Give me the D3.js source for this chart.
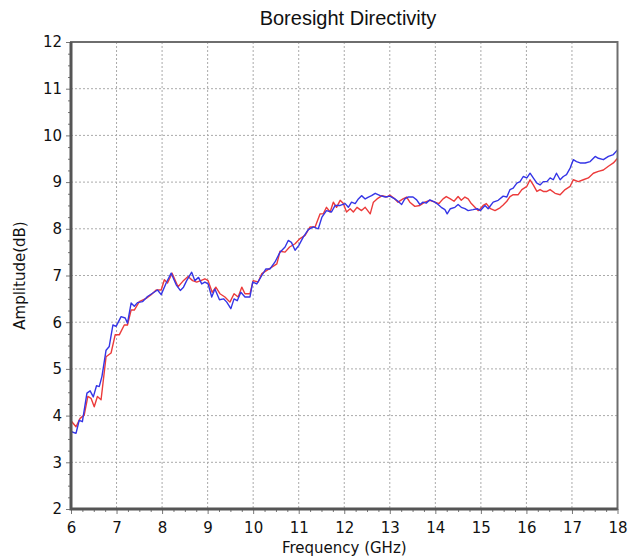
<!DOCTYPE html>
<html>
<head>
<meta charset="utf-8">
<script src="https://cdn.jsdelivr.net/npm/d3@7"></script>
<style>
  body { margin: 0; background: #fff; }
  .grid line { stroke: #aaaaaa; stroke-width: 1; stroke-dasharray: 2,2; }
  .tick text { font-family: "DejaVu Sans", Verdana, sans-serif; font-size: 15px; fill: #111; }
</style>
</head>
<body>
<script>
// series values (GHz, dB)
var blueFreq = [6.0,6.11,6.18,6.25,6.35,6.42,6.49,6.56,6.62,6.68,6.77,6.84,6.92,6.99,7.1,7.19,7.24,7.32,7.39,7.46,7.57,7.68,7.79,7.9,7.98,8.09,8.2,8.31,8.4,8.47,8.54,8.65,8.72,8.8,8.87,8.94,9.01,9.09,9.16,9.26,9.35,9.42,9.51,9.58,9.65,9.73,9.82,9.93,9.99,10.08,10.19,10.28,10.37,10.48,10.59,10.7,10.77,10.84,10.92,11.0,11.1,11.21,11.32,11.43,11.51,11.61,11.72,11.8,11.91,12.02,12.09,12.16,12.24,12.31,12.38,12.46,12.53,12.6,12.68,12.79,12.9,13.0,13.11,13.18,13.26,13.33,13.4,13.51,13.59,13.66,13.73,13.8,13.88,13.99,14.06,14.13,14.21,14.26,14.33,14.43,14.5,14.57,14.65,14.72,14.83,14.92,14.99,15.09,15.16,15.27,15.38,15.49,15.57,15.64,15.71,15.79,15.86,15.93,16.01,16.08,16.15,16.23,16.3,16.37,16.45,16.52,16.59,16.66,16.74,16.81,16.88,16.96,17.03,17.1,17.18,17.29,17.4,17.51,17.58,17.69,17.8,17.91,18.0];
var blueAmp = [3.66,3.62,3.9,3.87,4.48,4.53,4.4,4.64,4.62,4.84,5.4,5.48,5.94,5.91,6.12,6.09,5.98,6.41,6.34,6.42,6.44,6.55,6.62,6.69,6.59,6.84,7.05,6.8,6.68,6.75,6.89,7.07,6.89,6.96,6.82,6.86,6.82,6.54,6.71,6.48,6.5,6.43,6.29,6.5,6.46,6.64,6.54,6.54,6.86,6.82,7.0,7.14,7.14,7.29,7.5,7.61,7.75,7.71,7.54,7.64,7.82,7.98,8.04,8.0,8.25,8.39,8.36,8.5,8.5,8.54,8.46,8.57,8.54,8.64,8.71,8.64,8.68,8.71,8.76,8.71,8.68,8.7,8.64,8.59,8.52,8.64,8.68,8.68,8.62,8.52,8.57,8.55,8.62,8.57,8.52,8.46,8.41,8.32,8.43,8.46,8.52,8.46,8.43,8.39,8.41,8.43,8.39,8.5,8.43,8.57,8.61,8.7,8.68,8.84,8.87,8.98,9.01,9.12,9.09,9.19,9.09,8.98,8.94,9.01,9.01,9.09,9.05,9.19,9.05,9.12,9.16,9.3,9.48,9.44,9.41,9.41,9.44,9.55,9.51,9.48,9.55,9.59,9.69];

var redFreq = [6.0,6.11,6.2,6.29,6.37,6.44,6.51,6.58,6.66,6.77,6.88,6.97,7.06,7.17,7.24,7.32,7.39,7.5,7.65,7.76,7.87,7.98,8.05,8.12,8.22,8.35,8.46,8.57,8.67,8.76,8.85,8.94,9.01,9.1,9.18,9.27,9.38,9.49,9.58,9.67,9.75,9.82,9.93,10.0,10.11,10.19,10.3,10.41,10.52,10.59,10.7,10.8,10.92,11.03,11.14,11.25,11.36,11.47,11.54,11.61,11.69,11.76,11.83,11.91,11.98,12.05,12.13,12.2,12.28,12.38,12.46,12.57,12.64,12.72,12.83,12.94,13.0,13.11,13.18,13.29,13.37,13.44,13.55,13.66,13.77,13.88,13.99,14.08,14.17,14.24,14.33,14.41,14.5,14.57,14.65,14.72,14.79,14.87,14.94,14.99,15.05,15.12,15.21,15.31,15.42,15.49,15.57,15.64,15.71,15.82,15.9,16.01,16.08,16.15,16.23,16.3,16.37,16.45,16.52,16.63,16.74,16.85,16.96,17.03,17.14,17.25,17.36,17.47,17.58,17.69,17.8,17.91,18.0];
var redAmp = [3.89,3.76,3.94,4.01,4.41,4.37,4.19,4.41,4.34,5.26,5.34,5.73,5.73,5.94,5.94,6.26,6.26,6.44,6.51,6.59,6.69,6.69,6.91,6.84,7.05,6.76,6.88,6.98,6.89,6.86,6.89,6.93,6.89,6.64,6.75,6.61,6.54,6.43,6.61,6.54,6.75,6.61,6.61,6.89,6.86,7.04,7.11,7.18,7.25,7.52,7.5,7.61,7.68,7.79,7.86,8.04,8.04,8.32,8.32,8.46,8.36,8.57,8.46,8.61,8.54,8.36,8.43,8.36,8.46,8.39,8.46,8.32,8.57,8.64,8.71,8.68,8.72,8.64,8.57,8.64,8.68,8.57,8.48,8.5,8.57,8.61,8.57,8.54,8.64,8.69,8.64,8.59,8.69,8.61,8.68,8.64,8.54,8.46,8.39,8.43,8.5,8.54,8.43,8.39,8.45,8.51,8.59,8.69,8.73,8.73,8.84,8.91,9.05,8.94,8.8,8.84,8.8,8.8,8.84,8.76,8.73,8.84,8.91,9.05,9.01,9.05,9.09,9.19,9.23,9.26,9.34,9.41,9.51];

var xTicks = [6,7,8,9,10,11,12,13,14,15,16,17,18];
var yTicks = [2,3,4,5,6,7,8,9,10,11,12];

var title = "Boresight Directivity",
    xLabel = "Frequency (GHz)",
    yLabel = "Amplitude(dB)";

var width = 640, height = 559;
var margin = {top: 42, right: 22.5, bottom: 50, left: 71};
var w = width - margin.left - margin.right,
    h = height - margin.top - margin.bottom;

var svg = d3.select("body").append("svg")
    .attr("width", width)
    .attr("height", height);

var g = svg.append("g")
    .attr("transform", "translate(" + margin.left + "," + margin.top + ")");

var x = d3.scaleLinear().domain([6, 18]).range([0, w]);
var y = d3.scaleLinear().domain([2, 12]).range([h, 0]);

// grid
var grid = g.append("g").attr("class", "grid");
grid.selectAll(".vx").data(xTicks.slice(1, -1)).enter().append("line")
    .attr("x1", function(d){ return x(d); }).attr("x2", function(d){ return x(d); })
    .attr("y1", 0).attr("y2", h);
grid.selectAll(".hy").data(yTicks.slice(1, -1)).enter().append("line")
    .attr("y1", function(d){ return y(d); }).attr("y2", function(d){ return y(d); })
    .attr("x1", 0).attr("x2", w);

// minor ticks
var xMinor = d3.range(6, 18.001, 0.25).filter(function(d){ return d % 1 !== 0; });
var yMinor = d3.range(2, 12.001, 0.25).filter(function(d){ return d % 1 !== 0; });

g.append("g")
    .attr("transform", "translate(0," + h + ")")
    .call(d3.axisBottom(x).tickValues(xMinor).tickSize(3).tickFormat(""))
    .call(function(a){ a.select(".domain").remove(); a.selectAll("line").attr("stroke", "#777"); });
g.append("g")
    .call(d3.axisLeft(y).tickValues(yMinor).tickSize(3).tickFormat(""))
    .call(function(a){ a.select(".domain").remove(); a.selectAll("line").attr("stroke", "#777"); });

// major axes
var xAxis = g.append("g")
    .attr("transform", "translate(0," + h + ")")
    .call(d3.axisBottom(x).tickValues(xTicks).tickSize(5).tickPadding(8).tickFormat(d3.format("d")));
xAxis.select(".domain").remove();
xAxis.selectAll("line").attr("stroke", "#777");

var yAxis = g.append("g")
    .call(d3.axisLeft(y).tickValues(yTicks).tickSize(5).tickPadding(4).tickFormat(d3.format("d")));
yAxis.select(".domain").remove();
yAxis.selectAll("line").attr("stroke", "#777");

// lines
var line = d3.line()
    .x(function(d){ return x(d[0]); })
    .y(function(d){ return y(d[1]); });

g.append("path")
    .datum(d3.zip(redFreq, redAmp))
    .attr("fill", "none")
    .attr("stroke", "#ec3b3b")
    .attr("stroke-width", 1.4)
    .attr("stroke-linejoin", "round")
    .attr("d", line);

g.append("path")
    .datum(d3.zip(blueFreq, blueAmp))
    .attr("fill", "none")
    .attr("stroke", "#3535e6")
    .attr("stroke-width", 1.4)
    .attr("stroke-linejoin", "round")
    .attr("d", line);

// frame
g.append("rect")
    .attr("width", w).attr("height", h)
    .attr("fill", "none")
    .attr("stroke", "#6e6e6e")
    .attr("stroke-width", 2);
g.append("path")
    .attr("d", "M0,0V" + h + "H" + w)
    .attr("fill", "none")
    .attr("stroke", "#555")
    .attr("stroke-width", 3);

// titles
svg.append("text")
    .attr("x", 348).attr("y", 25)
    .attr("text-anchor", "middle")
    .style("font-family", "'Liberation Sans', Arial, sans-serif")
    .style("font-size", "20px")
    .attr("fill", "#111")
    .text(title);

svg.append("text")
    .attr("x", margin.left + w / 2).attr("y", 553)
    .attr("text-anchor", "middle")
    .style("font-family", "'DejaVu Sans', Verdana, sans-serif")
    .style("font-size", "15px")
    .attr("fill", "#111")
    .text(xLabel);

svg.append("text")
    .attr("transform", "translate(25," + (margin.top + h / 2) + ") rotate(-90)")
    .attr("text-anchor", "middle")
    .style("font-family", "'DejaVu Sans', Verdana, sans-serif")
    .style("font-size", "15px")
    .attr("fill", "#111")
    .text(yLabel);
</script>
</body>
</html>
